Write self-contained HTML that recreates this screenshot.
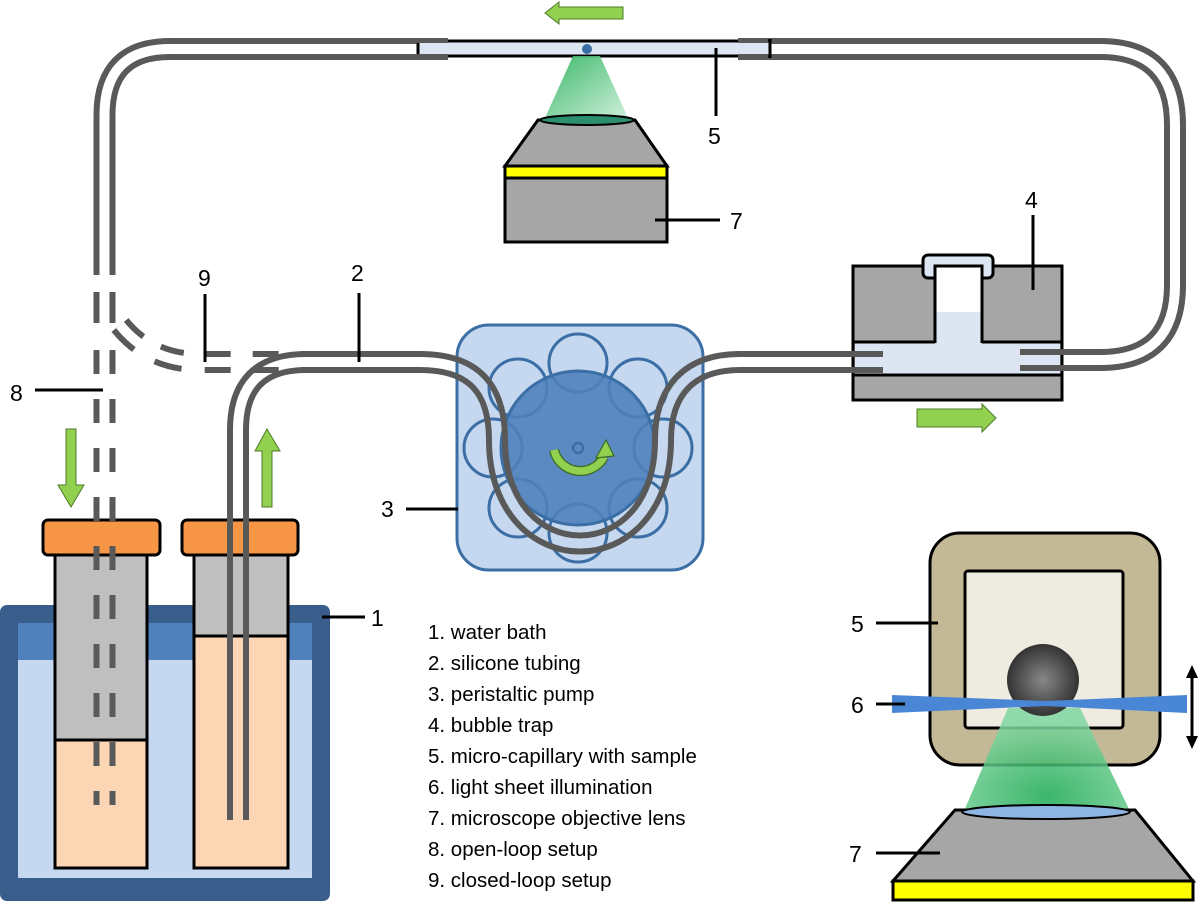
<!DOCTYPE html>
<html><head><meta charset="utf-8"><style>
html,body{margin:0;padding:0;background:#fff;}
svg{display:block;}
text{font-family:"Liberation Sans",Arial,sans-serif;fill:#000;}
</style></head><body>
<svg width="1200" height="902" viewBox="0 0 1200 902" xmlns="http://www.w3.org/2000/svg">
<defs>
<mask id="mMain" maskUnits="userSpaceOnUse" x="0" y="0" width="1200" height="902">
<path d="M104.5,275 V115 Q104.5,49 170,49 H430" fill="none" stroke="#fff" stroke-width="22"/>
<path d="M104.5,275 V115 Q104.5,49 170,49 H430" fill="none" stroke="#000" stroke-width="10"/>
<path d="M745,49 H1100 Q1175,49 1175,125 V285 Q1175,360 1100,360 H1020" fill="none" stroke="#fff" stroke-width="22"/>
<path d="M745,49 H1100 Q1175,49 1175,125 V285 Q1175,360 1100,360 H1020" fill="none" stroke="#000" stroke-width="10"/>
</mask>
<mask id="mPump" maskUnits="userSpaceOnUse" x="0" y="0" width="1200" height="902">
<path d="M238,820 V430 Q238,362 306,362 H420 C475,362 497,390 497,440 C497,578 663,578 663,440 C663,390 690,362 740,362 H883" fill="none" stroke="#fff" stroke-width="22"/>
<path d="M238,820 V430 Q238,362 306,362 H420 C475,362 497,390 497,440 C497,578 663,578 663,440 C663,390 690,362 740,362 H883" fill="none" stroke="#000" stroke-width="10"/>
</mask>
<mask id="mDash" maskUnits="userSpaceOnUse" x="0" y="0" width="1200" height="902">
<path d="M104.5,350 V805" fill="none" stroke="#fff" stroke-width="22" stroke-dasharray="24 25"/>
<path d="M104.5,292 V323" fill="none" stroke="#fff" stroke-width="22"/>
<path d="M104.5,280 V870" fill="none" stroke="#000" stroke-width="10"/>
<path d="M120,325 Q150,362 200,362 H310" fill="none" stroke="#fff" stroke-width="22" stroke-dasharray="26 22"/>
<path d="M120,325 Q150,362 200,362 H310" fill="none" stroke="#000" stroke-width="10"/>
</mask>
<radialGradient id="g1" cx="0.5" cy="0.85" r="0.7"><stop offset="0" stop-color="#1aa850"/><stop offset="1" stop-color="#7fd6a0"/></radialGradient>
<linearGradient id="g2" x1="0" y1="0" x2="1" y2="1"><stop offset="0" stop-color="#27b05a"/><stop offset="1" stop-color="#c9eed6"/></linearGradient>
<radialGradient id="gs" cx="0.5" cy="0.5" r="0.5"><stop offset="0" stop-color="#888"/><stop offset="0.6" stop-color="#555"/><stop offset="1" stop-color="#333"/></radialGradient>
</defs>

<rect x="0" y="605" width="330" height="296" rx="7" fill="#3a5e8c"/>
<rect x="18" y="623" width="294" height="255" fill="#c5d8ef"/>
<rect x="18" y="623" width="294" height="37" fill="#4f81bd"/>

<rect x="55" y="555" width="92" height="185" fill="#bfbfbf" stroke="#000" stroke-width="3"/>
<rect x="55" y="740" width="92" height="128" fill="#fcd5b4" stroke="#000" stroke-width="3"/>
<rect x="43" y="520" width="117" height="35" rx="5" fill="#f79646" stroke="#000" stroke-width="3"/>
<rect x="194" y="555" width="94" height="81" fill="#bfbfbf" stroke="#000" stroke-width="3"/>
<rect x="194" y="636" width="94" height="232" fill="#fcd5b4" stroke="#000" stroke-width="3"/>
<rect x="182" y="520" width="116" height="35" rx="5" fill="#f79646" stroke="#000" stroke-width="3"/>

<rect x="457" y="325" width="246" height="245" rx="32" fill="#c5d8ef" stroke="#3a6ea5" stroke-width="3"/>
<g fill="none" stroke="#3a6ea5" stroke-width="3">
<circle cx="578" cy="363" r="29"/><circle cx="638" cy="388" r="29"/><circle cx="663" cy="448" r="29"/><circle cx="638" cy="508" r="29"/>
<circle cx="578" cy="533" r="29"/><circle cx="518" cy="508" r="29"/><circle cx="493" cy="448" r="29"/><circle cx="518" cy="388" r="29"/>
</g>
<circle cx="578" cy="448" r="77" fill="#4f81bd" fill-opacity="0.9" stroke="#3a6ea5" stroke-width="3"/>
<circle cx="578" cy="448" r="5" fill="none" stroke="#3a6ea5" stroke-width="2.5"/>
<path d="M554,450 A27,27 0 0 0 604,457" fill="none" stroke="#3b6b1e" stroke-width="10"/>
<path d="M554,450 A27,27 0 0 0 604,457" fill="none" stroke="#92d050" stroke-width="7.5"/>
<polygon points="596,458 614,456 606,440" fill="#92d050" stroke="#3b6b1e" stroke-width="1.2"/>

<rect x="853" y="266" width="209" height="134" fill="#a6a6a6" stroke="#000" stroke-width="3"/>
<rect x="855" y="342" width="205" height="33" fill="#dce6f2"/>
<line x1="853" y1="342" x2="935" y2="342" stroke="#000" stroke-width="3"/>
<line x1="982" y1="342" x2="1062" y2="342" stroke="#000" stroke-width="3"/>
<line x1="853" y1="375" x2="1062" y2="375" stroke="#000" stroke-width="3"/>
<rect x="923" y="255" width="70" height="23" rx="5" fill="#dce6f2" stroke="#000" stroke-width="3"/>
<rect x="935" y="266" width="47" height="77" fill="#fff"/>
<rect x="935" y="312" width="47" height="32" fill="#dce6f2"/>
<path d="M935,343 V266 H982 V343" fill="none" stroke="#000" stroke-width="3"/>

<rect x="0" y="0" width="1200" height="902" fill="#595959" mask="url(#mMain)"/>
<rect x="0" y="0" width="1200" height="902" fill="#595959" mask="url(#mPump)"/>
<rect x="0" y="0" width="1200" height="902" fill="#595959" mask="url(#mDash)"/>

<rect x="418" y="41" width="352" height="15" fill="#dce6f2"/>
<line x1="418" y1="41" x2="770" y2="41" stroke="#000" stroke-width="3"/>
<line x1="418" y1="56" x2="770" y2="56" stroke="#000" stroke-width="3"/>
<line x1="418" y1="39" x2="418" y2="58" stroke="#000" stroke-width="3"/>
<line x1="770" y1="39" x2="770" y2="58" stroke="#000" stroke-width="3"/>
<rect x="400" y="38" width="48" height="5" fill="#595959"/>
<rect x="400" y="54" width="48" height="6" fill="#595959"/>
<rect x="738" y="38" width="30" height="5" fill="#595959"/>
<rect x="738" y="54" width="30" height="6" fill="#595959"/>
<polygon points="573,56 600,56 628,118 545,118" fill="url(#g2)" opacity="0.9"/>
<circle cx="587" cy="49" r="5" fill="#3a6ea5"/>

<polygon points="538,120 635,120 667,166 505,166" fill="#a6a6a6" stroke="#000" stroke-width="3"/>
<ellipse cx="587" cy="120" rx="47" ry="5" fill="#2c8f70" stroke="#000" stroke-width="2"/>
<rect x="505" y="166" width="162" height="12" fill="#ffff00" stroke="#000" stroke-width="3"/>
<rect x="505" y="178" width="162" height="64" fill="#a6a6a6" stroke="#000" stroke-width="3"/>

<g fill="#92d050" stroke="#4e7a27" stroke-width="1">
<polygon points="623,7 559,7 559,2 545,13 559,24 559,19 623,19"/>
<polygon points="917,409 982,409 982,404 996,418 982,432 982,427 917,427"/>
<polygon points="66,429 76,429 76,485 84,485 71,507 58,485 66,485"/>
<polygon points="262,507 272,507 272,451 280,451 267,429 255,451 262,451"/>
</g>

<rect x="930" y="533" width="230" height="232" rx="30" fill="#c4b997" stroke="#000" stroke-width="3"/>
<rect x="965" y="571" width="158" height="157" rx="3" fill="#eeebe0" stroke="#000" stroke-width="3"/>
<polygon points="1008,708 1080,708 1130,811 964,811" fill="url(#g1)" opacity="0.85"/>
<circle cx="1043" cy="680" r="36" fill="url(#gs)"/>
<polygon points="892,695 1045,701 1187,695 1187,713 1045,706 892,713" fill="#4a86d6"/>
<line x1="1192" y1="672" x2="1192" y2="742" stroke="#000" stroke-width="3"/>
<polygon points="1192,665 1186,678 1198,678"/><polygon points="1192,749 1186,736 1198,736"/>
<polygon points="955,810 1135,810 1193,881 893,881" fill="#a6a6a6" stroke="#000" stroke-width="3"/>
<ellipse cx="1046" cy="812" rx="84" ry="7" fill="#8eb4e3" stroke="#000" stroke-width="2"/>
<rect x="893" y="881" width="300" height="19" fill="#ffff00" stroke="#000" stroke-width="3"/>

<g stroke="#000" stroke-width="3">
<line x1="35" y1="390" x2="103" y2="390"/>
<line x1="205" y1="294" x2="205" y2="362"/>
<line x1="359" y1="293" x2="359" y2="362"/>
<line x1="406" y1="509" x2="458" y2="509"/>
<line x1="322" y1="617" x2="365" y2="617"/>
<line x1="1033" y1="215" x2="1033" y2="290"/>
<line x1="716" y1="48" x2="716" y2="116"/>
<line x1="655" y1="220" x2="720" y2="220"/>
<line x1="876" y1="623" x2="938" y2="623"/>
<line x1="876" y1="704" x2="905" y2="704"/>
<line x1="876" y1="853" x2="940" y2="853"/>
</g>
<g font-size="23">
<text x="10" y="401">8</text>
<text x="198" y="286">9</text>
<text x="351" y="281">2</text>
<text x="381" y="517">3</text>
<text x="371" y="626">1</text>
<text x="1025" y="208">4</text>
<text x="708" y="144">5</text>
<text x="730" y="229">7</text>
<text x="851" y="632">5</text>
<text x="851" y="713">6</text>
<text x="849" y="862">7</text>
</g>
<g font-size="20.5">
<text x="428" y="639">1. water bath</text>
<text x="428" y="670">2. silicone tubing</text>
<text x="428" y="701">3. peristaltic pump</text>
<text x="428" y="732">4. bubble trap</text>
<text x="428" y="763">5. micro-capillary with sample</text>
<text x="428" y="794">6. light sheet illumination</text>
<text x="428" y="825">7. microscope objective lens</text>
<text x="428" y="856">8. open-loop setup</text>
<text x="428" y="887">9. closed-loop setup</text>
</g>
</svg>
</body></html>
